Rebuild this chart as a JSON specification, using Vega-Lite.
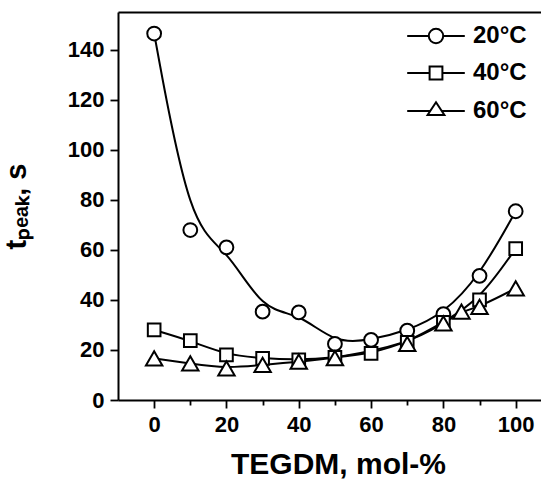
{
  "$schema": "https://vega.github.io/schema/vega-lite/v6.json",
  "width": 423,
  "height": 388,
  "autosize": "none",
  "padding": {"left": 118, "top": 12, "right": 0, "bottom": 83},
  "config": {
    "view": {"stroke": null},
    "font": "Liberation Sans",
    "axis": {
      "domainColor": "black", "domainWidth": 2,
      "tickColor": "black", "tickWidth": 1.8,
      "labelColor": "black", "labelFont": "Liberation Sans", "labelFontWeight": "bold", "labelFontSize": 22,
      "titleFont": "Liberation Sans", "titleFontWeight": "bold", "titleColor": "black",
      "grid": false, "labelFlush": false, "labelOverlap": false
    }
  },
  "data": {
    "values": [
      {"T": "20°C", "x": 0, "y": 146.4},
      {"T": "20°C", "x": 10, "y": 67.9},
      {"T": "20°C", "x": 20, "y": 61},
      {"T": "20°C", "x": 30, "y": 35.3},
      {"T": "20°C", "x": 40, "y": 35},
      {"T": "20°C", "x": 50, "y": 22.4},
      {"T": "20°C", "x": 60, "y": 24},
      {"T": "20°C", "x": 70, "y": 27.7},
      {"T": "20°C", "x": 80, "y": 34.3},
      {"T": "20°C", "x": 90, "y": 49.6},
      {"T": "20°C", "x": 100, "y": 75.4},
      {"T": "40°C", "x": 0, "y": 28},
      {"T": "40°C", "x": 10, "y": 23.7},
      {"T": "40°C", "x": 20, "y": 18},
      {"T": "40°C", "x": 30, "y": 16.6},
      {"T": "40°C", "x": 40, "y": 16},
      {"T": "40°C", "x": 50, "y": 17},
      {"T": "40°C", "x": 60, "y": 18.6},
      {"T": "40°C", "x": 70, "y": 23},
      {"T": "40°C", "x": 80, "y": 31},
      {"T": "40°C", "x": 90, "y": 40},
      {"T": "40°C", "x": 100, "y": 60.5},
      {"T": "60°C", "x": 0, "y": 16.6},
      {"T": "60°C", "x": 10, "y": 14.6},
      {"T": "60°C", "x": 20, "y": 12.6},
      {"T": "60°C", "x": 30, "y": 14},
      {"T": "60°C", "x": 40, "y": 15.3},
      {"T": "60°C", "x": 50, "y": 16.7},
      {"T": "60°C", "x": 70, "y": 22.4},
      {"T": "60°C", "x": 80, "y": 30.6},
      {"T": "60°C", "x": 85, "y": 35.3},
      {"T": "60°C", "x": 90, "y": 37.2},
      {"T": "60°C", "x": 100, "y": 44.6}
    ]
  },
  "resolve": {
    "scale": {"shape": "independent", "size": "independent"},
    "axis": {"x": "independent"},
    "legend": {"shape": "independent"}
  },
  "layer": [
    {
      "mark": {"type": "line", "interpolate": "basis", "stroke": "black", "strokeWidth": 2},
      "encoding": {
        "x": {
          "field": "x", "type": "quantitative",
          "scale": {"domain": [-10, 107], "nice": false, "zero": false},
          "axis": {
            "orient": "bottom",
            "values": [0, 10, 20, 30, 40, 50, 60, 70, 80, 90, 100],
            "labelExpr": "datum.value % 20 === 0 ? datum.label : ''",
            "tickSize": {"condition": {"test": "datum.value % 20 !== 0", "value": 5}, "value": 8},
            "labelPadding": 6,
            "title": "TEGDM, mol-%",
            "titleFontSize": 30,
            "titlePadding": 14,
            "titleX": 220
          }
        },
        "y": {
          "field": "y", "type": "quantitative",
          "scale": {"domain": [0, 155], "nice": false},
          "axis": {
            "orient": "left",
            "values": [0, 10, 20, 30, 40, 50, 60, 70, 80, 90, 100, 110, 120, 130, 140, 150],
            "labelExpr": "datum.value % 20 === 0 ? datum.label : ''",
            "tickSize": {"condition": {"test": "datum.value % 20 !== 0", "value": 5}, "value": 8},
            "labelPadding": 6,
            "title": "tₚₑₐₖ, s",
            "titleFontSize": 29,
            "titlePadding": 36
          }
        },
        "detail": {"field": "T", "type": "nominal"}
      }
    },
    {
      "mark": {"type": "point", "filled": true, "fill": "white", "stroke": "black", "strokeWidth": 2, "opacity": 1},
      "encoding": {
        "x": {
          "field": "x", "type": "quantitative",
          "axis": {"orient": "top", "labels": false, "ticks": false, "title": null, "domainWidth": 2, "domainColor": "black"}
        },
        "y": {"field": "y", "type": "quantitative"},
        "shape": {
          "field": "T", "type": "nominal",
          "scale": {"domain": ["20°C", "40°C", "60°C"], "range": ["circle", "square", "triangle-up"]},
          "legend": null
        },
        "size": {
          "field": "T", "type": "ordinal",
          "scale": {"type": "ordinal", "domain": ["20°C", "40°C", "60°C"], "range": [190, 160, 270]},
          "legend": null
        }
      }
    },
    {
      "transform": [{"filter": "datum.x < -1000"}],
      "mark": {"type": "point", "filled": false, "stroke": "black", "strokeWidth": 2},
      "encoding": {
        "shape": {
          "field": "T", "type": "nominal",
          "scale": {
            "domain": ["20°C", "40°C", "60°C"],
            "range": [
              "M -3.6 0 L -0.9 0 M 0.9 0 L 3.6 0 M -0.9 0 A 0.9 0.9 0 1 1 0.9 0 A 0.9 0.9 0 1 1 -0.9 0 Z",
              "M -3.6 0 L -0.8 0 M 0.8 0 L 3.6 0 M -0.8 -0.8 L 0.8 -0.8 L 0.8 0.8 L -0.8 0.8 Z",
              "M -3.6 0 L -0.72 0 M 0.72 0 L 3.6 0 M 0 -1.1 L 1.05 0.5 L -1.05 0.5 Z"
            ]
          },
          "legend": {
            "title": null,
            "orient": "none",
            "legendX": 306,
            "legendY": 12,
            "padding": 0,
            "symbolSize": 256,
            "symbolStrokeWidth": 2,
            "symbolStrokeColor": "black",
            "symbolOpacity": 1,
            "labelFont": "Liberation Sans",
            "labelFontWeight": "bold",
            "labelFontSize": 24,
            "labelColor": "black",
            "labelOffset": 25,
            "rowPadding": 13
          }
        }
      }
    }
  ]
}
